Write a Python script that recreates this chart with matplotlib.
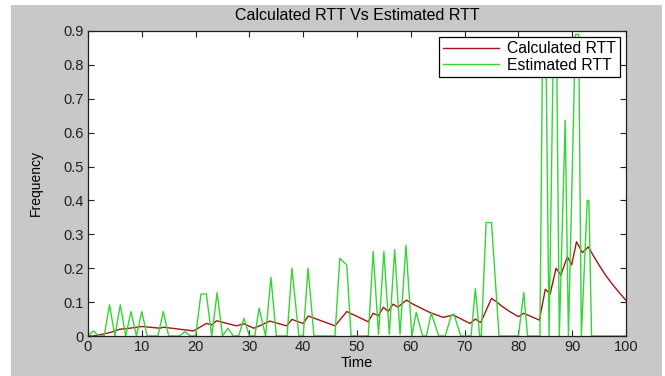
import matplotlib
matplotlib.use("Agg")
import matplotlib.pyplot as plt
from matplotlib.patches import Rectangle

plt.rcParams['font.family'] = ['Liberation Sans', 'DejaVu Sans']

# estimated RTT samples (time, value)
est_t = [0, 1, 2, 3, 4, 5, 6, 7, 8, 9, 10, 11, 13, 14, 15, 17, 18, 19, 20,
         21, 22, 23, 24, 25, 26, 27, 28, 29, 30, 31, 31.8, 33, 34, 35, 37, 37.9,
         39.2, 40, 40.9, 42, 45.9, 46.8, 48.1, 48.9, 52.1, 53, 54, 55, 56, 57,
         58, 59.1, 60.2, 61, 62.2, 62.9, 63.8, 65.2, 66.4, 67.5, 68, 69.3, 71.2,
         72, 72.8, 73.1, 74, 75, 76.4, 80, 81, 81.7, 84, 84.5, 85.1, 85.7, 86.5,
         87.1, 87.6, 88.7, 89.3, 90.6, 91.2, 91.7, 92.8, 93.1, 93.6, 100]
est_v = [0, 0.015, 0, 0, 0.092, 0, 0.092, 0, 0.072, 0, 0.072, 0, 0, 0.072, 0, 0,
         0.013, 0, 0, 0.124, 0.124, 0, 0.128, 0, 0.023, 0, 0, 0.052, 0, 0, 0.082,
         0, 0.173, 0, 0, 0.2, 0, 0, 0.2, 0, 0, 0.229, 0.21, 0, 0, 0.249, 0.005,
         0.249, 0.005, 0.255, 0.005, 0.268, 0, 0.07, 0, 0, 0.067, 0, 0, 0.06,
         0.065, 0, 0, 0.139, 0, 0, 0.335, 0.335, 0, 0, 0.128, 0, 0, 0.88, 0.88,
         0, 0.86, 0.86, 0, 0.637, 0, 0.89, 0.89, 0, 0.40, 0.40, 0, 0]

# calculated RTT (smoothed)
calc_t = [0, 1, 2, 3.5, 4.7, 5.9, 7.8, 10, 13.4, 14, 19.6, 22, 23, 23.9, 27.6,
          29, 30.8, 31.9, 33.8, 36.9, 37.9, 40, 40.95, 45.9, 48.1, 52.1, 53, 54,
          54.9, 55.8, 56.7, 57.6, 59.2, 60.4, 63.6, 66, 67.9, 71, 72, 73, 75, 76,
          77, 78.5, 80, 81, 83.9, 85, 85.9, 87, 87.9, 89.1, 89.9, 90.8, 91.9, 93,
          94, 95.2, 96.4, 97.6, 98.8, 100]
calc_v = [0, 0, 0.003, 0.008, 0.013, 0.02, 0.023, 0.028, 0.023, 0.026, 0.015,
          0.037, 0.033, 0.045, 0.03, 0.036, 0.023, 0.03, 0.044, 0.03, 0.049,
          0.037, 0.059, 0.03, 0.072, 0.042, 0.067, 0.06, 0.085, 0.072, 0.094,
          0.085, 0.106, 0.094, 0.069, 0.055, 0.062, 0.037, 0.05, 0.04, 0.111,
          0.1, 0.087, 0.071, 0.057, 0.067, 0.047, 0.138, 0.124, 0.2, 0.18, 0.234,
          0.21, 0.278, 0.246, 0.263, 0.235, 0.204, 0.175, 0.15, 0.127, 0.105]

xticks = list(range(0, 101, 10))
yticks = [0, 0.1, 0.2, 0.3, 0.4, 0.5, 0.6, 0.7, 0.8, 0.9]
ytick_labels = ['0', '0.1', '0.2', '0.3', '0.4', '0.5', '0.6', '0.7', '0.8', '0.9']

fig = plt.figure(figsize=(6.65, 3.76), dpi=100, facecolor='white')
fig.patches.append(Rectangle((11 / 665, 0), 651 / 665, 371 / 376,
                             transform=fig.transFigure, facecolor='#c8c8c8',
                             edgecolor='none', zorder=-1))

ax = fig.add_axes([88 / 665, 40 / 376, 538 / 665, 305 / 376])
ax.plot(calc_t, calc_v, color='#a81414', linewidth=1.0, label='Calculated RTT')
ax.plot(est_t, est_v, color='#33d633', linewidth=1.0, label='Estimated RTT')

ax.set_xlim(0, 100)
ax.set_ylim(0, 0.9)
ax.set_xticks(xticks)
ax.set_yticks(yticks)
ax.set_yticklabels(ytick_labels)
ax.tick_params(direction='in', length=4, width=0.8, top=True, right=True,
               labelsize=10.5, colors='#202020', pad=3)
for s in ax.spines.values():
    s.set_color('#202020')
    s.set_linewidth(0.9)

ax.set_title('Calculated RTT Vs Estimated RTT', fontsize=11.5, pad=8)
ax.set_xlabel('Time', fontsize=10.5, labelpad=1)
ax.set_ylabel('Frequency', fontsize=10, labelpad=15)

leg = ax.legend(loc='upper right', fontsize=11.3, fancybox=False, framealpha=1,
                edgecolor='black', handlelength=3.6, handletextpad=0.5,
                labelspacing=0.1, borderpad=0.25, borderaxespad=0.4)
leg.get_frame().set_linewidth(0.9)

fig.savefig('out.png', dpi=100, facecolor=fig.get_facecolor())
